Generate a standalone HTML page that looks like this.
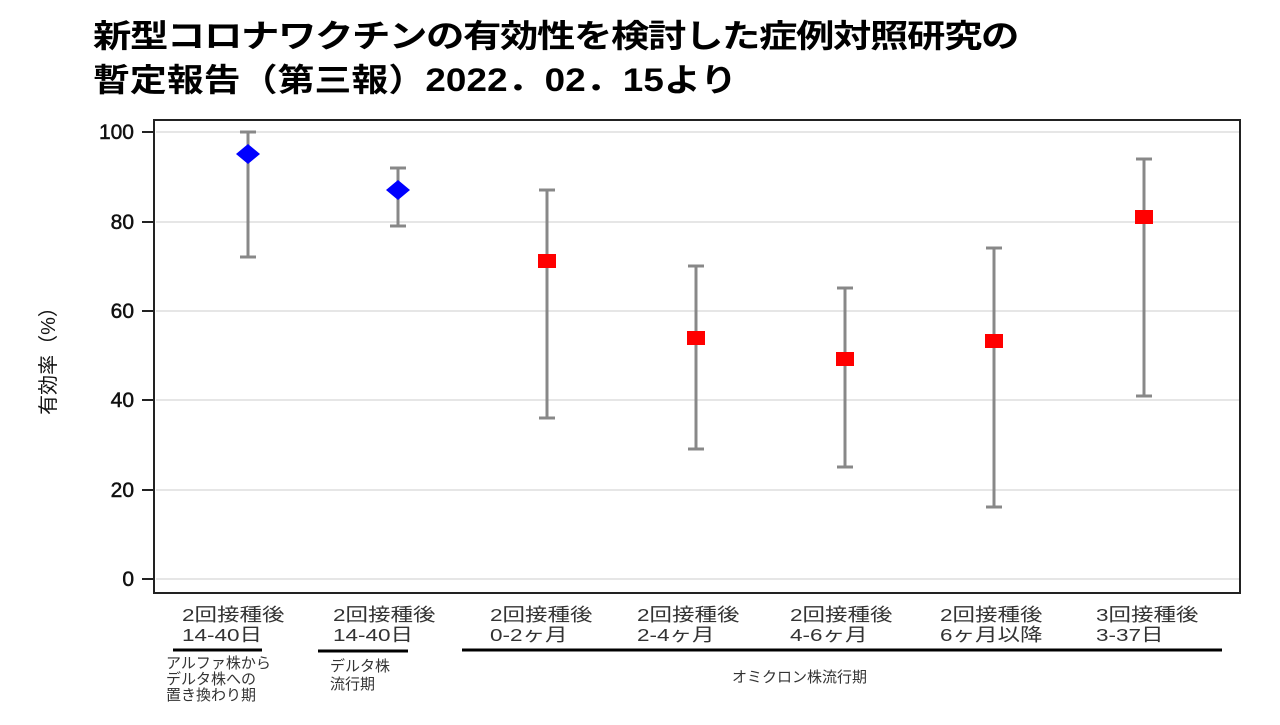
<!DOCTYPE html>
<html><head><meta charset="utf-8"><style>
body{margin:0;background:#fff;width:1280px;height:720px;overflow:hidden}
</style></head><body>
<svg width="1280" height="720" xmlns="http://www.w3.org/2000/svg" font-family="'Liberation Sans','Noto Sans CJK JP',sans-serif">
<text transform="translate(93,47) scale(1.2,1)" font-size="32" font-weight="bold" fill="#000" textLength="772" lengthAdjust="spacing">新型コロナワクチンの有効性を検討した症例対照研究の</text>
<text transform="translate(93,91) scale(1.15,1)" font-size="32" font-weight="bold" fill="#000" textLength="560" lengthAdjust="spacing">暫定報告（第三報）2022．02．15より</text>
<g stroke="#ddd" stroke-width="1.5">
<line x1="156" x2="1239" y1="132" y2="132"/><line x1="156" x2="1239" y1="222" y2="222"/>
<line x1="156" x2="1239" y1="311" y2="311"/><line x1="156" x2="1239" y1="400" y2="400"/>
<line x1="156" x2="1239" y1="490" y2="490"/><line x1="156" x2="1239" y1="579" y2="579"/>
</g>
<rect x="154" y="120" width="1086" height="473" fill="none" stroke="#222" stroke-width="2"/>
<g stroke="#222" stroke-width="2">
<line x1="142" x2="154" y1="132" y2="132"/><line x1="142" x2="154" y1="222" y2="222"/>
<line x1="142" x2="154" y1="311" y2="311"/><line x1="142" x2="154" y1="400" y2="400"/>
<line x1="142" x2="154" y1="490" y2="490"/><line x1="142" x2="154" y1="579" y2="579"/>
</g>
<g font-size="21" fill="#111" text-anchor="end" stroke="#111" stroke-width="0.5">
<text x="134" y="139">100</text><text x="134" y="229">80</text><text x="134" y="318">60</text>
<text x="134" y="407">40</text><text x="134" y="497">20</text><text x="134" y="586">0</text>
</g>
<text transform="translate(55,356) rotate(-90)" font-size="20" fill="#111" text-anchor="middle">有効率（%）</text>
<g stroke="#888" stroke-width="3">
<line x1="248" x2="248" y1="132" y2="257"/><line x1="240" x2="256" y1="132" y2="132"/><line x1="240" x2="256" y1="257" y2="257"/>
<line x1="398" x2="398" y1="168" y2="226"/><line x1="390" x2="406" y1="168" y2="168"/><line x1="390" x2="406" y1="226" y2="226"/>
<line x1="547" x2="547" y1="190" y2="418"/><line x1="539" x2="555" y1="190" y2="190"/><line x1="539" x2="555" y1="418" y2="418"/>
<line x1="696" x2="696" y1="266" y2="449"/><line x1="688" x2="704" y1="266" y2="266"/><line x1="688" x2="704" y1="449" y2="449"/>
<line x1="845" x2="845" y1="288" y2="467"/><line x1="837" x2="853" y1="288" y2="288"/><line x1="837" x2="853" y1="467" y2="467"/>
<line x1="994" x2="994" y1="248" y2="507"/><line x1="986" x2="1002" y1="248" y2="248"/><line x1="986" x2="1002" y1="507" y2="507"/>
<line x1="1144" x2="1144" y1="159" y2="396"/><line x1="1136" x2="1152" y1="159" y2="159"/><line x1="1136" x2="1152" y1="396" y2="396"/>
</g>
<polygon points="248,144 260,154 248,164 236,154" fill="#00f"/>
<polygon points="398,180 410,190 398,200 386,190" fill="#00f"/>
<g fill="#f00">
<rect x="538" y="254" width="18" height="14"/><rect x="687" y="331" width="18" height="14"/>
<rect x="836" y="352" width="18" height="14"/><rect x="985" y="334" width="18" height="14"/>
<rect x="1135" y="210" width="18" height="14"/>
</g>
<g font-size="18" fill="#333">
<g transform="translate(182,0) scale(1.25,1)"><text x="0" y="621">2回接種後</text><text x="0" y="641">14-40日</text></g>
<g transform="translate(333,0) scale(1.25,1)"><text x="0" y="621">2回接種後</text><text x="0" y="641">14-40日</text></g>
<g transform="translate(490,0) scale(1.25,1)"><text x="0" y="621">2回接種後</text><text x="0" y="641">0-2ヶ月</text></g>
<g transform="translate(637,0) scale(1.25,1)"><text x="0" y="621">2回接種後</text><text x="0" y="641">2-4ヶ月</text></g>
<g transform="translate(790,0) scale(1.25,1)"><text x="0" y="621">2回接種後</text><text x="0" y="641">4-6ヶ月</text></g>
<g transform="translate(940,0) scale(1.25,1)"><text x="0" y="621">2回接種後</text><text x="0" y="641">6ヶ月以降</text></g>
<g transform="translate(1096,0) scale(1.25,1)"><text x="0" y="621">3回接種後</text><text x="0" y="641">3-37日</text></g>
</g>
<g stroke="#000" stroke-width="3">
<line x1="173" x2="262" y1="650" y2="650"/><line x1="318" x2="408" y1="651" y2="651"/><line x1="462" x2="1222" y1="650" y2="650"/>
</g>
<g font-size="15" fill="#333">
<text x="166" y="668">アルファ株から</text><text x="166" y="684">デルタ株への</text><text x="166" y="700">置き換わり期</text>
<text x="330" y="671">デルタ株</text><text x="330" y="689">流行期</text>
<text x="732" y="682">オミクロン株流行期</text>
</g>
</svg>
</body></html>
